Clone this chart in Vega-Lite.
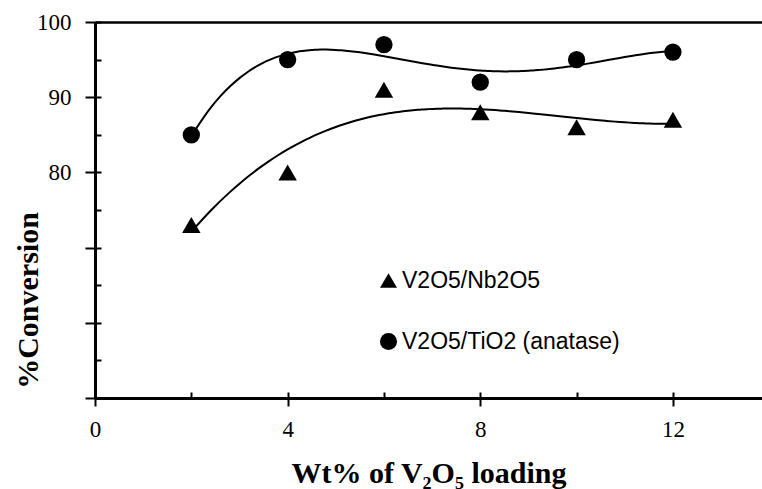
{
  "$schema": "https://vega.github.io/schema/vega-lite/v6.json",
  "width": 667,
  "height": 376,
  "autosize": "none",
  "padding": {"left": 95, "top": 22, "right": 0, "bottom": 91},
  "background": "white",
  "config": {
    "view": {"stroke": null},
    "axis": {"grid": false, "domainColor": "black", "tickColor": "black", "labelColor": "black", "titleColor": "black", "labelFont": "Liberation Serif", "titleFont": "Liberation Serif"}
  },
  "data": {
    "values": [
      {"series": "V2O5/Nb2O5", "x": 2, "y": 73},
      {"series": "V2O5/Nb2O5", "x": 4, "y": 80},
      {"series": "V2O5/Nb2O5", "x": 6, "y": 91},
      {"series": "V2O5/Nb2O5", "x": 8, "y": 88},
      {"series": "V2O5/Nb2O5", "x": 10, "y": 86},
      {"series": "V2O5/Nb2O5", "x": 12, "y": 87},
      {"series": "V2O5/TiO2 (anatase)", "x": 2, "y": 85},
      {"series": "V2O5/TiO2 (anatase)", "x": 4, "y": 95},
      {"series": "V2O5/TiO2 (anatase)", "x": 6, "y": 97},
      {"series": "V2O5/TiO2 (anatase)", "x": 8, "y": 92},
      {"series": "V2O5/TiO2 (anatase)", "x": 10, "y": 95},
      {"series": "V2O5/TiO2 (anatase)", "x": 12, "y": 96}
    ]
  },
  "resolve": {"axis": {"x": "independent", "y": "independent"}},
  "layer": [
    {
      "transform": [
        {"filter": "datum.series === 'V2O5/Nb2O5'"},
        {"regression": "y", "on": "x", "method": "poly", "order": 3, "extent": [2, 12]}
      ],
      "mark": {"type": "line", "color": "black", "strokeWidth": 2, "interpolate": "monotone"},
      "encoding": {
        "x": {"field": "x", "type": "quantitative", "scale": {"domain": [0, 13.85], "nice": false, "zero": false},
          "axis": {"orient": "bottom", "values": [0, 2, 4, 6, 8, 10, 12], "tickSize": -6, "tickWidth": 2, "labels": false, "domain": false, "title": null}},
        "y": {"field": "y", "type": "quantitative", "scale": {"domain": [50, 100], "nice": false, "zero": false},
          "axis": {"orient": "left", "values": [50, 55, 60, 65, 70, 75, 80, 85, 90, 95, 100], "tickSize": -6, "tickWidth": 2, "labels": false, "domain": false, "title": null}}
      }
    },
    {
      "transform": [
        {"filter": "datum.series === 'V2O5/TiO2 (anatase)'"},
        {"regression": "y", "on": "x", "method": "poly", "order": 4, "extent": [2, 12]}
      ],
      "mark": {"type": "line", "color": "black", "strokeWidth": 2, "interpolate": "monotone"},
      "encoding": {
        "x": {"field": "x", "type": "quantitative", "axis": null},
        "y": {"field": "y", "type": "quantitative", "axis": null}
      }
    },
    {
      "transform": [{"filter": "datum.series === 'V2O5/Nb2O5'"}],
      "mark": {"type": "point", "filled": true, "color": "black", "opacity": 1, "size": 340},
      "encoding": {
        "x": {"field": "x", "type": "quantitative",
          "axis": {"orient": "bottom", "values": [0, 4, 8, 12], "tickSize": 8, "tickWidth": 2, "domainWidth": 3, "labelFontSize": 23, "labelPadding": 12, "labelFlush": false,
            "title": "Wt% of V₂O₅ loading", "titleFontSize": 30, "titleFontWeight": "bold", "titleBaseline": "alphabetic", "titleY": 84}},
        "y": {"field": "y", "type": "quantitative",
          "axis": {"orient": "left", "values": [50, 60, 70, 80, 90, 100], "tickSize": 10, "tickWidth": 2, "domainWidth": 3, "labelFontSize": 23, "labelPadding": 14, "labelFlush": false,
            "labelExpr": "datum.value >= 80 ? datum.label : ''",
            "title": "%Conversion", "titleFontSize": 30, "titleFontWeight": "bold", "titleAngle": -90, "titleAlign": "center", "titleBaseline": "alphabetic", "titleX": -58, "titleY": 278}},
        "shape": {"field": "series", "type": "nominal",
          "scale": {"domain": ["V2O5/Nb2O5", "V2O5/TiO2 (anatase)"], "range": ["triangle-up", "circle"]},
          "legend": {"title": null, "orient": "none", "legendX": 282, "legendY": 247, "labelFont": "Liberation Sans", "labelFontSize": 23, "labelLimit": 0, "labelColor": "black", "symbolFillColor": "black", "symbolStrokeColor": "black", "symbolStrokeWidth": 0, "symbolSize": 290, "symbolType": "circle", "rowPadding": 37, "labelOffset": 2}}
      }
    },
    {
      "transform": [{"filter": "datum.series === 'V2O5/TiO2 (anatase)'"}],
      "mark": {"type": "point", "filled": true, "color": "black", "opacity": 1, "size": 300},
      "encoding": {
        "x": {"field": "x", "type": "quantitative",
          "axis": {"orient": "top", "ticks": false, "labels": false, "domainWidth": 2.5, "title": null}},
        "y": {"field": "y", "type": "quantitative", "axis": null},
        "shape": {"field": "series", "type": "nominal"}
      }
    }
  ]
}
